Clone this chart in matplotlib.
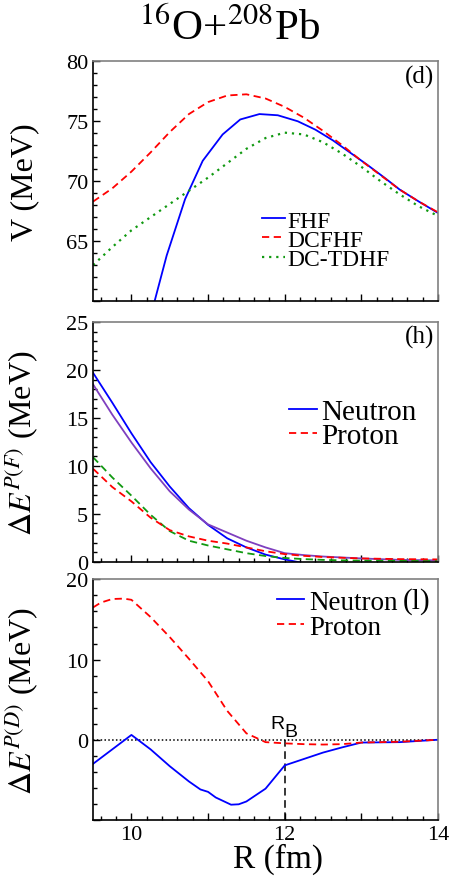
"""16O+208Pb barrier and Pauli energy panels (d), (h), (l)."""

import numpy as np
import matplotlib
matplotlib.use("Agg")
from matplotlib import pyplot as plt
from matplotlib.ticker import MultipleLocator

plt.rcParams["font.family"] = ["Liberation Serif", "DejaVu Serif"]
plt.rcParams["mathtext.fontset"] = "stix"

# panel (d): potentials V(R)
r_fhf = [10.22, 10.46, 10.70, 10.93, 11.19, 11.42, 11.67, 11.91, 12.17, 12.40, 12.63, 12.85, 13.07, 13.30,
         13.50, 13.75, 14.0]
v_fhf = [58.0, 63.8, 68.5, 71.7, 73.9, 75.15, 75.6, 75.5, 75.0, 74.3, 73.4, 72.4, 71.4, 70.3, 69.3, 68.3, 67.35]
r_grid = [9.5, 9.75, 10.0, 10.25, 10.5, 10.75, 11.0, 11.25, 11.5, 11.75, 12.0, 12.25, 12.5, 12.75, 13.0, 13.25,
          13.5, 13.75, 14.0]
v_dcfhf = [68.3, 69.4, 70.8, 72.4, 74.1, 75.6, 76.6, 77.15, 77.25, 76.9, 76.2, 75.3, 74.2, 73.0, 71.7, 70.5,
           69.3, 68.3, 67.4]
v_dctdhf = [63.0, 64.5, 65.9, 67.0, 68.1, 69.2, 70.3, 71.5, 72.7, 73.6, 74.05, 73.9, 73.25, 72.3, 71.2, 70.0,
            68.9, 67.9, 67.1]

# panel (h): Delta E^{P(F)}
r_f = [9.5, 9.75, 10.0, 10.25, 10.5, 10.75, 11.0, 11.25, 11.5, 11.75, 12.0, 12.25, 12.5, 12.75, 13.0, 13.5, 14.0]
ef_neutron_a = [19.7, 16.6, 13.4, 10.4, 7.85, 5.6, 3.85, 2.45, 1.5, 0.75, 0.25, -0.15, -0.4, -0.5, -0.5, -0.5, -0.5]
ef_neutron_b = [18.5, 15.35, 12.45, 9.75, 7.35, 5.45, 3.9, 3.05, 2.2, 1.5, 0.9, 0.7, 0.55, 0.45, 0.35, 0.2, 0.15]
ef_proton_a = [9.7, 7.8, 6.3, 4.6, 3.3, 2.65, 2.2, 1.9, 1.5, 1.1, 0.8, 0.62, 0.5, 0.42, 0.35, 0.28, 0.25]
ef_proton_b = [10.9, 8.8, 6.9, 4.9, 3.2, 2.2, 1.7, 1.3, 0.9, 0.6, 0.4, 0.28, 0.2, 0.15, 0.12, 0.1, 0.08]

# panel (l): Delta E^{P(D)}
r_d_p = [9.5, 9.6, 9.75, 9.9, 10.0, 10.25, 10.5, 10.75, 11.0, 11.25, 11.5, 11.75, 12.0, 12.25, 12.5, 12.75, 13.0,
         13.5, 14.0]
ed_proton = [16.5, 17.1, 17.55, 17.6, 17.45, 15.3, 12.8, 10.1, 7.3, 3.6, 0.8, -0.3, -0.45, -0.55, -0.6, -0.55,
             -0.35, -0.25, 0.0]
r_d_n = [9.5, 9.75, 10.0, 10.25, 10.5, 10.75, 10.9, 11.0, 11.1, 11.3, 11.4, 11.5, 11.75, 12.0, 12.25, 12.5, 12.75,
         13.0, 13.5, 14.0]
ed_neutron = [-3.0, -1.2, 0.6, -1.2, -3.3, -5.2, -6.2, -6.5, -7.2, -8.1, -8.05, -7.7, -6.1, -3.2, -2.4, -1.6,
              -0.95, -0.35, -0.3, 0.0]
r_barrier = 12.0

BLUE = "#0000ff"
RED = "#ff0000"
GREEN = "#119911"
PURPLE = "#7f3fbf"
DASH = (0, (4, 2.5))
LW = 1.3

fig = plt.figure(figsize=(4.52, 8.78), dpi=100)
left, width = 0.206, 0.763
ax1 = fig.add_axes([left, 0.656, width, 0.273])
ax2 = fig.add_axes([left, 0.359, width, 0.273])
ax3 = fig.add_axes([left, 0.065, width, 0.274])

for ax in (ax1, ax2, ax3):
    ax.set_xlim(9.5, 14)
    ax.xaxis.set_major_locator(MultipleLocator(1))
    ax.xaxis.set_minor_locator(MultipleLocator(0.2))
    ax.tick_params(which="both", direction="in", top=False, right=False, labelsize=16, width=1)
    ax.tick_params(which="major", length=5)
    ax.tick_params(which="minor", length=3)
    for side in ("top", "right"):
        ax.spines[side].set_color("#808080")
        ax.spines[side].set_linewidth(1.2)
    for side in ("left", "bottom"):
        ax.spines[side].set_linewidth(1.2)
    ax.yaxis.set_label_coords(-0.155, 0.5)

ax1.tick_params(labelbottom=False)
ax2.tick_params(labelbottom=False)

# (d)
ax1.plot(r_fhf, v_fhf, color=BLUE, lw=LW, label="FHF")
ax1.plot(r_grid, v_dcfhf, color=RED, lw=LW, ls=DASH, label="DCFHF")
ax1.plot(r_grid, v_dctdhf, color=GREEN, lw=1.6, ls=(0, (1, 2.2)), label="DC-TDHF")
ax1.set_ylim(60, 80)
ax1.set_yticks([60, 65, 70, 75, 80])
ax1.set_yticklabels(["", "65", "70", "75", "80"])
ax1.yaxis.set_minor_locator(MultipleLocator(1))
ax1.set_ylabel("V (MeV)", fontsize=23)
ax1.text(0.99, 0.935, "(d)", transform=ax1.transAxes, ha="right", va="center", fontsize=18)
ax1.legend(loc="center left", bbox_to_anchor=(0.49, 0.255), frameon=False, fontsize=17, handlelength=0.97,
           handletextpad=0.1, labelspacing=-0.1, borderpad=0, borderaxespad=0)

# (h)
ax2.plot(r_f, ef_neutron_a, color=BLUE, lw=LW, label="Neutron")
ax2.plot(r_f, ef_neutron_b, color=PURPLE, lw=LW)
ax2.plot(r_f, ef_proton_b, color=GREEN, lw=LW, ls=DASH)
ax2.plot(r_f, ef_proton_a, color=RED, lw=LW, ls=DASH, label="Proton")
ax2.set_ylim(0, 25)
ax2.yaxis.set_major_locator(MultipleLocator(5))
ax2.yaxis.set_minor_locator(MultipleLocator(1))
ax2.set_ylabel(r"$\Delta E^{P(F)}$ (MeV)", fontsize=23)
ax2.text(0.99, 0.94, "(h)", transform=ax2.transAxes, ha="right", va="center", fontsize=18)
ax2.legend(loc="center left", bbox_to_anchor=(0.568, 0.575), frameon=False, fontsize=21, handlelength=0.95,
           handletextpad=0.17, labelspacing=-0.1, borderpad=0, borderaxespad=0)

# (l)
ax3.axhline(0, color="black", lw=1.1, ls=(0, (1, 1.5)))
ax3.vlines(r_barrier, -10, 0, color="black", lw=1.1, ls=(0, (5, 3)))
ax3.plot(r_d_n, ed_neutron, color=BLUE, lw=LW, label="Neutron")
ax3.plot(r_d_p, ed_proton, color=RED, lw=LW, ls=DASH, label="Proton")
ax3.set_ylim(-10, 20)
ax3.set_yticks([-10, 0, 10, 20])
ax3.set_yticklabels(["", "0", "10", "20"])
ax3.yaxis.set_minor_locator(MultipleLocator(2))
ax3.set_xticks([10, 11, 12, 13, 14])
ax3.set_xticklabels(["10", "", "12", "", "14"])
ax3.set_ylabel(r"$\Delta E^{P(D)}$ (MeV)", fontsize=23)
ax3.set_xlabel("R (fm)", fontsize=24)
ax3.xaxis.set_label_coords(0.537, -0.095)
sans = ["Liberation Sans", "DejaVu Sans"]
ax3.text(r_barrier, 1.5, "R", ha="right", va="baseline", fontsize=14, family=sans)
ax3.text(r_barrier, 0.5, "B", ha="left", va="baseline", fontsize=14, family=sans)
ax3.text(0.977, 0.91, "(l)", transform=ax3.transAxes, ha="right", va="center", fontsize=21)
ax3.legend(loc="center left", bbox_to_anchor=(0.533, 0.852), frameon=False, fontsize=19.5, handlelength=1.0,
           handletextpad=0.18, labelspacing=0.0, borderpad=0, borderaxespad=0)

fig.text(0.509, 1 - 40 / 878, r"$^{16}$O+$^{208}$Pb", ha="center", va="baseline", fontsize=31)

fig.savefig("out.png", dpi=100)
